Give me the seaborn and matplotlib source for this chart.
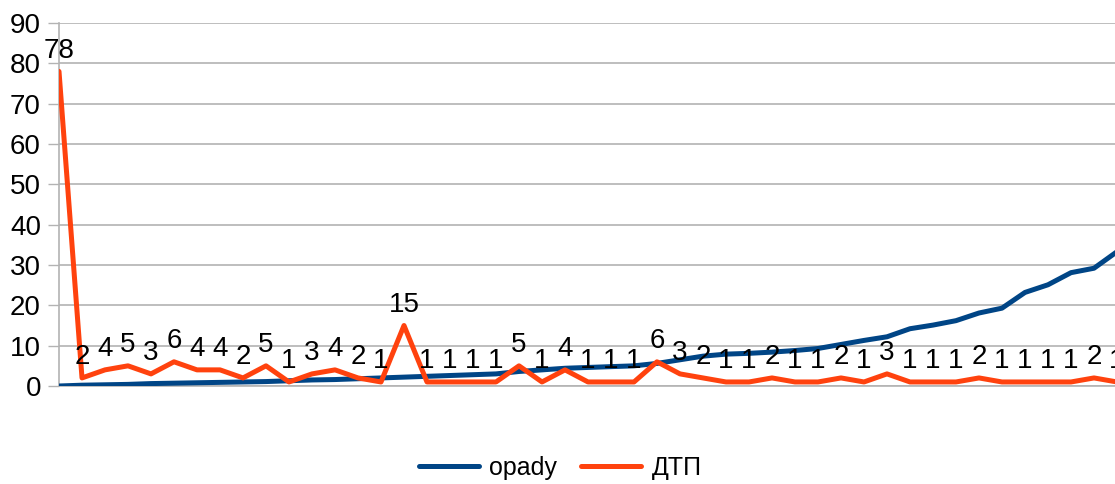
import numpy as np
import pandas as pd
import matplotlib
matplotlib.use("Agg")
import matplotlib.pyplot as plt
import seaborn as sns
from matplotlib.lines import Line2D

# ---- data ----
opady = [0.0, 0.2, 0.3, 0.4, 0.6, 0.7, 0.8, 0.9, 1.0, 1.1, 1.3, 1.5, 1.6, 1.8, 2.0,
         2.2, 2.4, 2.6, 2.8, 3.0, 3.6, 4.0, 4.4, 4.6, 4.8, 5.0, 5.6, 6.5, 7.4, 7.9,
         8.1, 8.4, 8.8, 9.3, 10.3, 11.3, 12.2, 14.2, 15.1, 16.2, 18.1, 19.3, 23.2,
         25.1, 28.1, 29.2, 33.3]
dtp = [78, 2, 4, 5, 3, 6, 4, 4, 2, 5, 1, 3, 4, 2, 1, 15, 1, 1, 1, 1, 5, 1, 4, 1, 1,
       1, 6, 3, 2, 1, 1, 2, 1, 1, 2, 1, 3, 1, 1, 1, 2, 1, 1, 1, 1, 2, 1]
series_names = ["opady", "ДТП"]
y_ticks = [0, 10, 20, 30, 40, 50, 60, 70, 80, 90]

colors = {"opady": "#004586", "ДТП": "#ff420e"}

sns.set_theme(style="white")
plt.rcParams["font.family"] = ["Liberation Sans", "DejaVu Sans"]
plt.rcParams["text.color"] = "black"

idx = np.arange(len(dtp))
df = pd.DataFrame({
    "x": np.concatenate([idx, idx]),
    "value": opady + dtp,
    "series": [series_names[0]] * len(opady) + [series_names[1]] * len(dtp),
})

fig = plt.figure(figsize=(11.15, 4.84), dpi=100)
ax = fig.add_axes([59 / 1115, (484 - 386) / 484, (1117 - 59) / 1115, (386 - 23) / 484])

sns.lineplot(data=df, x="x", y="value", hue="series", palette=colors,
             hue_order=series_names, linewidth=3.6, ax=ax, legend=False,
             zorder=3)

# data labels for ДТП
for xi, v in zip(idx, dtp):
    ax.annotate(str(v), (xi, v), xytext=(0, 10), textcoords="offset points",
                ha="center", va="baseline", fontsize=20, color="black",
                annotation_clip=False, zorder=4)

ax.set_xlim(0, len(dtp) - 1)
ax.set_ylim(0, 90)
ax.set_yticks(y_ticks)
ax.set_xticks(idx)
ax.set_xticklabels([])
ax.tick_params(axis="y", labelsize=20, length=8, width=1, color="#b3b3b3",
               pad=5, labelcolor="black", left=True)
ax.tick_params(axis="x", length=0)
ax.grid(axis="y", color="#b3b3b3", linewidth=1.2, zorder=0)
ax.grid(axis="x", visible=False)
ax.set_xlabel("")
ax.set_ylabel("")
for s in ["top", "right"]:
    ax.spines[s].set_visible(False)
for s in ["left", "bottom"]:
    ax.spines[s].set_color("#b3b3b3")
    ax.spines[s].set_linewidth(1.2)

handles = [Line2D([0], [0], color=colors[n], linewidth=3.6) for n in series_names]
leg = fig.legend(handles, series_names, loc="center",
                 bbox_to_anchor=(560 / 1115, 1 - 468 / 484),
                 ncol=2, frameon=False, fontsize=18, handlelength=2.4,
                 handletextpad=0.4, columnspacing=1.0)
for t in leg.get_texts():
    t.set_color("black")

fig.savefig("out.png", dpi=100)
